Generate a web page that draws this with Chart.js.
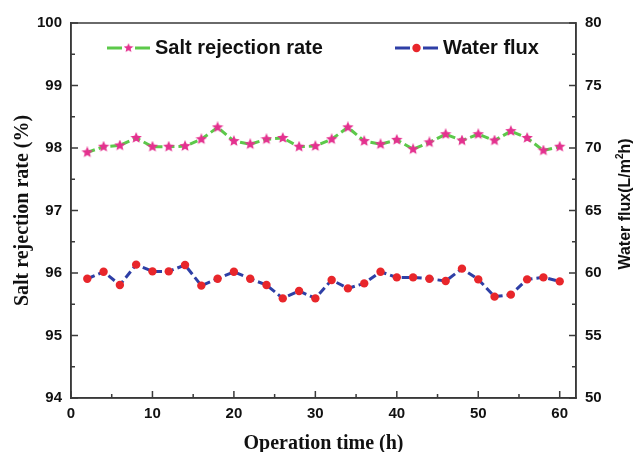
<!DOCTYPE html>
<html>
<head>
<meta charset="utf-8">
<script src="https://cdn.jsdelivr.net/npm/chart.js@4/dist/chart.umd.min.js"></script>
<style>
html,body{margin:0;padding:0;background:#fff}
#wrap{width:633px;height:452px}
</style>
</head>
<body>
<div id="wrap"><canvas id="myChart" width="633" height="452"></canvas></div>
<script>
// operation time (h)
let hours=[2,4,6,8,10,12,14,16,18,20,22,24,26,28,30,32,34,36,38,40,42,44,46,48,50,52,54,56,58,60]
// salt rejection rate (%), left axis
let saltRate=[97.93,98.02,98.04,98.16,98.02,98.02,98.03,98.14,98.33,98.11,98.06,98.14,98.16,98.02,98.03,
  98.14,98.33,98.11,98.06,98.13,97.98,98.09,98.22,98.12,98.22,98.12,98.27,98.16,97.96,98.02]
// water flux (L/m2h), right axis
let waterFlux=[59.54,60.1,59.04,60.67,60.13,60.13,60.64,58.99,59.54,60.1,59.54,59.04,57.97,58.56,57.97,
  59.44,58.77,59.17,60.1,59.65,59.65,59.54,59.36,60.35,59.49,58.11,58.27,59.49,59.65,59.33]
let xLabels=[0,10,20,30,40,50,60]
let leftLabels=[94,95,96,97,98,99,100]
let rightLabels=[50,55,60,65,70,75,80]

let sans="'Liberation Sans', Arial, sans-serif"
let serif="'Liberation Serif', 'Times New Roman', serif"
let axisCol="#3a3a3a"

// filled five point star for the salt series
function makeStar(size,color){
  let c=document.createElement("canvas")
  c.width=size;c.height=size
  let g=c.getContext("2d")
  let r=size/2,ri=r*0.45
  g.beginPath()
  for(let i=0;i<10;i++){
    let a=-Math.PI/2+i*Math.PI/5
    let rr=i%2==0?r:ri
    g.lineTo(r+rr*Math.cos(a),r+rr*Math.sin(a))
  }
  g.closePath()
  g.fillStyle=color
  g.fill()
  return c
}
let star=makeStar(12,"#e4318f")

let saltPts=hours.map((h,i)=>({x:h,y:saltRate[i]}))
let fluxPts=hours.map((h,i)=>({x:h,y:waterFlux[i]}))

// major labels plus a minor tick half way between them
function withMinor(list){
  let out=[]
  list.forEach((v,i)=>{
    out.push(v)
    if(i<list.length-1) out.push((v+list[i+1])/2)
  })
  return out
}
function setTicks(list){
  return function(scale){
    scale.ticks=withMinor(list).map(v=>({value:v}))
  }
}
function only(list){
  return function(v){
    return list.some(l=>Math.abs(l-v)<1e-6)?String(v):""
  }
}

let frame={
  id:"frame",
  afterDraw(chart){
    let c=chart.ctx,a=chart.chartArea
    c.save()
    c.strokeStyle=axisCol
    c.lineWidth=1.5
    c.strokeRect(a.left,a.top,a.right-a.left,a.bottom-a.top)
    // inward ticks
    let sc=chart.scales
    c.beginPath()
    sc.x.ticks.forEach(t=>{
      let p=sc.x.getPixelForValue(t.value)
      let len=xLabels.includes(t.value)?7:4
      c.moveTo(p,a.bottom);c.lineTo(p,a.bottom-len)
    })
    sc.y.ticks.forEach(t=>{
      let p=sc.y.getPixelForValue(t.value)
      let len=leftLabels.includes(t.value)?7:4
      c.moveTo(a.left,p);c.lineTo(a.left+len,p)
    })
    sc.y2.ticks.forEach(t=>{
      let p=sc.y2.getPixelForValue(t.value)
      let len=rightLabels.includes(t.value)?7:4
      c.moveTo(a.right,p);c.lineTo(a.right-len,p)
    })
    c.stroke()
    // right axis title, reading bottom to top
    c.translate(626,204)
    c.rotate(-Math.PI/2)
    c.fillStyle="#111"
    c.textBaseline="middle"
    let p1="Water flux(L/m",p2="2",p3="h)"
    c.font="bold 16px "+sans
    let w1=c.measureText(p1).width,w3=c.measureText(p3).width
    c.font="bold 10px "+sans
    let w2=c.measureText(p2).width
    let x0=-(w1+w2+w3)/2
    c.font="bold 16px "+sans
    c.fillText(p1,x0,0)
    c.font="bold 10px "+sans
    c.fillText(p2,x0+w1,-6)
    c.font="bold 16px "+sans
    c.fillText(p3,x0+w1+w2,0)
    c.restore()
  }
}

let legendIn={
  id:"legendIn",
  afterDraw(chart){
    let c=chart.ctx,a=chart.chartArea
    let y=a.top+25
    let items=[
      {x:a.left+36,text:"Salt rejection rate",ds:chart.data.datasets[0]},
      {x:a.left+324,text:"Water flux",ds:chart.data.datasets[1]}
    ]
    c.save()
    items.forEach(it=>{
      c.strokeStyle=it.ds.borderColor
      c.lineWidth=it.ds.borderWidth
      c.beginPath()
      c.moveTo(it.x,y);c.lineTo(it.x+15,y)
      c.moveTo(it.x+28,y);c.lineTo(it.x+43,y)
      c.stroke()
      if(it.ds.pointStyle==star){
        c.drawImage(star,it.x+21.5-5,y-5,10,10)
      }else{
        c.fillStyle=it.ds.pointBackgroundColor
        c.beginPath();c.arc(it.x+21.5,y,4.2,0,Math.PI*2);c.fill()
      }
      c.fillStyle="#111"
      c.font="bold 20px "+sans
      c.textBaseline="middle"
      c.fillText(it.text,it.x+48,y)
    })
    c.restore()
  }
}

let ctx=document.getElementById("myChart").getContext("2d")
let myChart=new Chart(ctx,{
  type:"line",
  data:{
    datasets:[{
      label:"Salt rejection rate",
      data:saltPts,
      yAxisID:"y",
      borderColor:"#5cc94a",
      borderWidth:3,
      borderDash:[8,4],
      pointStyle:star,
      pointBackgroundColor:"#e4318f",
      fill:false,
      tension:0
    },{
      label:"Water flux",
      data:fluxPts,
      yAxisID:"y2",
      borderColor:"#2e3fa6",
      borderWidth:3,
      borderDash:[8,4],
      pointStyle:"circle",
      pointRadius:4.2,
      pointBorderWidth:0,
      pointBackgroundColor:"#e8262b",
      pointBorderColor:"#e8262b",
      fill:false,
      tension:0
    }]
  },
  options:{
    responsive:false,
    animation:false,
    layout:{padding:{top:23,left:0,right:0,bottom:0}},
    plugins:{legend:{display:false},tooltip:{enabled:false}},
    scales:{
      x:{
        type:"linear",min:0,max:62,
        grid:{display:false,drawTicks:false},
        border:{color:axisCol,width:1.5},
        afterBuildTicks:setTicks(xLabels),
        afterFit(s){s.height=54},
        ticks:{autoSkip:false,maxRotation:0,color:"#111",padding:7,
          font:{family:sans,size:15,weight:"bold"},callback:only(xLabels)},
        title:{display:true,text:"Operation time (h)",color:"#111",padding:{top:0,bottom:-2},
          font:{family:serif,size:20,weight:"bold",lineHeight:1}}
      },
      y:{
        type:"linear",position:"left",min:94,max:100,
        grid:{display:false,drawTicks:false},
        border:{color:axisCol,width:1.5},
        afterBuildTicks:setTicks(leftLabels),
        afterFit(s){s.width=71},
        ticks:{autoSkip:false,color:"#111",padding:9,
          font:{family:sans,size:15,weight:"bold"},callback:only(leftLabels)},
        title:{display:true,text:"Salt rejection rate (%)",color:"#111",padding:{top:13,bottom:0},
          font:{family:serif,size:20,weight:"bold",lineHeight:1}}
      },
      y2:{
        type:"linear",position:"right",min:50,max:80,
        grid:{display:false,drawTicks:false},
        border:{color:axisCol,width:1.5},
        afterBuildTicks:setTicks(rightLabels),
        afterFit(s){s.width=57},
        ticks:{autoSkip:false,color:"#111",padding:9,
          font:{family:sans,size:15,weight:"bold"},callback:only(rightLabels)},
        title:{display:false}
      }
    }
  },
  plugins:[frame,legendIn]
})
</script>
</body>
</html>
